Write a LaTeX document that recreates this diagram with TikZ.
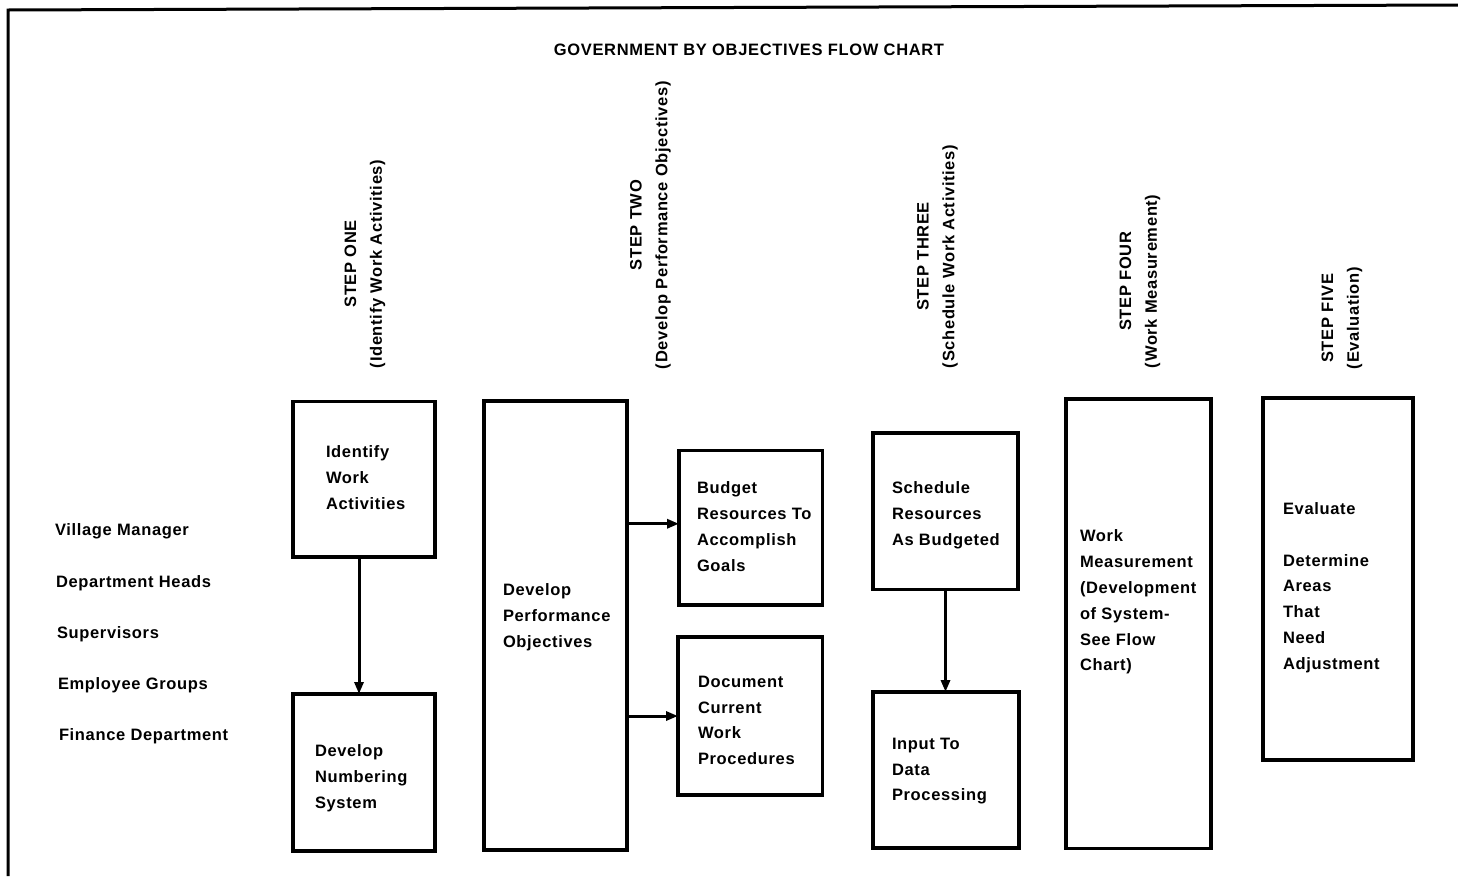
\documentclass[tikz,border=0pt]{standalone}
\usepackage{fontspec}
\setmainfont{Liberation Sans}[LetterSpace=4]
\usetikzlibrary{arrows.meta}
\begin{document}
\begin{tikzpicture}[x=1pt,y=-1pt,
  every node/.style={font=\bfseries\fontsize{16.5}{25.8}\selectfont, inner sep=0pt, outer sep=0pt},
  box/.style={draw, line width=3.1pt, anchor=north west},
  txt/.style={anchor=north west, align=left},
  steplbl/.style={rotate=90, anchor=west, align=center},
  who/.style={anchor=base west},
  arr/.style={line width=3pt, -{Triangle[length=12pt,width=9pt]}},
  frameline/.style={line width=3pt}]
\useasboundingbox (0,0) rectangle (1458,876);
% frame
\draw[frameline] (1458,5) -- (8,10) -- (8,876);
% title
\node[anchor=base] (title) at (749,55) {GOVERNMENT BY OBJECTIVES FLOW CHART};
% step labels
\node[steplbl] (s1) at (365,368) {STEP ONE\\(Identify Work Activities)};
\node[steplbl] (s2) at (650.5,369) {STEP TWO\\(Develop Performance Objectives)};
\node[steplbl] (s3) at (937.5,368) {STEP THREE\\(Schedule Work Activities)};
\node[steplbl] (s4) at (1140,368) {STEP FOUR\\(Work Measurement)};
\node[steplbl] (s5) at (1342,369) {STEP FIVE\\(Evaluation)};
% left labels
\node[who] (w1) at (55,535) {Village Manager};
\node[who] (w2) at (56,587) {Department Heads};
\node[who] (w3) at (57,638) {Supervisors};
\node[who] (w4) at (58,689) {Employee Groups};
\node[who] (w5) at (59,740) {Finance Department};
% boxes
\node[box, minimum width=142pt, minimum height=155.5pt] (id) at (293,401.5) {};
\node[box, minimum width=142pt, minimum height=157pt] (num) at (293,694) {};
\node[box, minimum width=143pt, minimum height=449pt] (perf) at (484,401) {};
\node[box, minimum width=143.5pt, minimum height=154.5pt] (bud) at (679,450.5) {};
\node[box, minimum width=144.5pt, minimum height=158pt] (doc) at (678,637) {};
\node[box, minimum width=145pt, minimum height=156.5pt] (sch) at (873,433) {};
\node[box, minimum width=146pt, minimum height=156pt] (inp) at (873,692) {};
\node[box, minimum width=145pt, minimum height=449.5pt] (wm) at (1066,399) {};
\node[box, minimum width=150pt, minimum height=362pt] (ev) at (1263,398) {};
% box texts
\node[txt] (tid) at (326,446) {Identify\\Work\\Activities};
\node[txt] (tnum) at (315,745) {Develop\\Numbering\\System};
\node[txt] (tperf) at (503,584) {Develop\\Performance\\Objectives};
\node[txt] (tbud) at (697,482) {Budget\\Resources To\\Accomplish\\Goals};
\node[txt] (tdoc) at (698,676) {Document\\Current\\Work\\Procedures};
\node[txt] (tsch) at (892,482) {Schedule\\Resources\\As Budgeted};
\node[txt] (tinp) at (892,738) {Input To\\Data\\Processing};
\node[txt] (twm) at (1080,530) {Work\\Measurement\\(Development\\of System-\\See Flow\\Chart)};
\node[txt] (tev) at (1283,502.5) {Evaluate\\[25.8pt]Determine\\Areas\\That\\Need\\Adjustment};
% connectors
\draw[arr] ([xshift=-5pt]id.south) -- ([xshift=-5pt]num.north);
\draw[arr] ([yshift=4pt]perf.east |- bud.west) -- ([yshift=4pt]bud.west);
\draw[arr] (perf.east |- doc.west) -- (doc.west);
\draw[arr] (sch.south) -- (sch.south |- inp.north);
\end{tikzpicture}
\end{document}
